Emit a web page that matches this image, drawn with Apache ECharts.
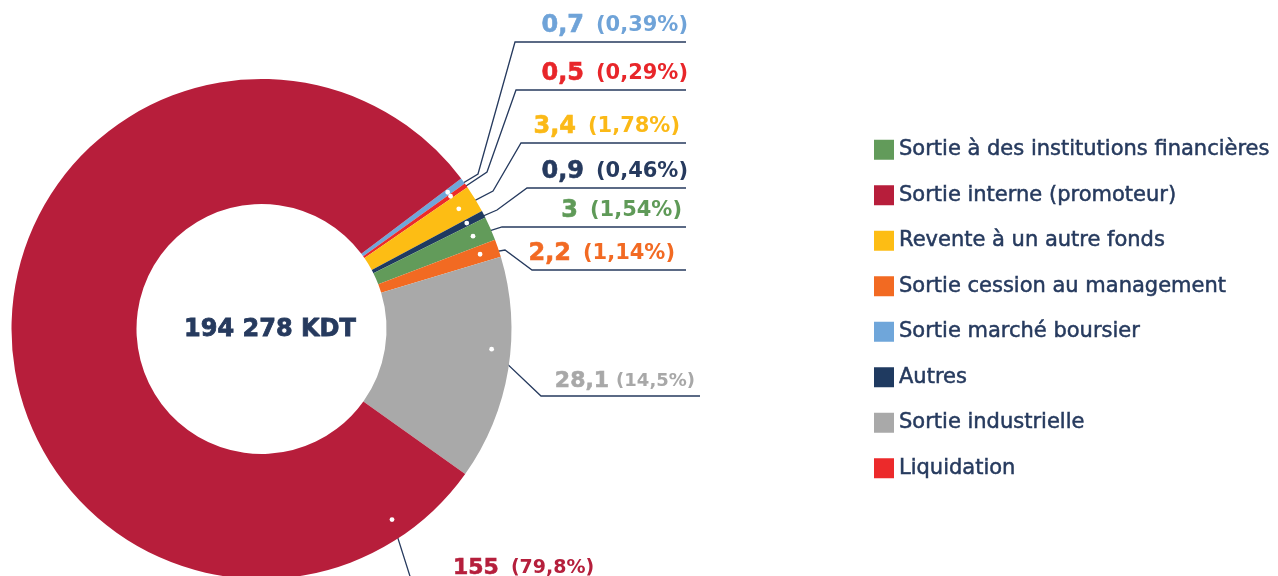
<!DOCTYPE html>
<html>
<head>
<meta charset="utf-8">
<script src="https://cdn.jsdelivr.net/npm/echarts@6/dist/echarts.min.js"></script>
<style>
  html, body { margin: 0; padding: 0; background: #fff; }
  #main { width: 1278px; height: 576px; }
</style>
</head>
<body>
<div id="main"></div>
<script>
// donnees (ordre du tracé, sens horaire)
var names = ['Sortie marché boursier', 'Liquidation', 'Revente à un autre fonds', 'Autres',
  'Sortie à des institutions financières', 'Sortie cession au management', 'Sortie industrielle',
  'Sortie interne (promoteur)'];
var values = [0.7, 0.5, 3.4, 0.9, 3, 2.2, 28.1, 155];      // en MDT
var shares = [0.39, 0.29, 1.78, 0.46, 1.54, 1.14, 14.5, 79.8]; // en %
var legendOrder = ['Sortie à des institutions financières', 'Sortie interne (promoteur)',
  'Revente à un autre fonds', 'Sortie cession au management', 'Sortie marché boursier',
  'Autres', 'Sortie industrielle', 'Liquidation'];
var totalText = '194 278 KDT';

var colors = ['#6fa6da', '#ec2a2b', '#fdbd14', '#1f3a60', '#629b5a', '#f26a22', '#a9a9a9', '#b71e3b'];
var textColors = ['#6fa3d8', '#e8262a', '#fbb917', '#263a5e', '#5f9a58', '#f26a23', '#a8a8a8', '#b51f3c'];
var navy = '#263a5e';
var font = '"DejaVu Sans"';

var cx = 261.5, cy = 329, startAngle = 37;
// position des étiquettes : coude(s), fin de trait, texte
var labelPos = [
  { pts: [[478, 174], [515, 42], [686, 42]], tx: 688, ty: 38, align: 'right' },
  { pts: [[487, 172], [516, 90], [686, 90]], tx: 688, ty: 86, align: 'right' },
  { pts: [[493, 191], [521, 143], [686, 143]], tx: 680, ty: 139, align: 'right' },
  { pts: [[497, 210], [527, 188], [686, 188]], tx: 688, ty: 184, align: 'right' },
  { pts: [[502, 227], [686, 227]], tx: 682, ty: 223, align: 'right' },
  { pts: [[505, 250], [532, 270], [686, 270]], tx: 675, ty: 266, align: 'right' },
  { pts: [[541, 396], [700, 396]], tx: 695, ty: 392, align: 'right' },
  { pts: [[415, 592], [610, 592]], tx: 453, ty: 579, align: 'left' }
];
var dotAngle = [null, null, null, null, null, null, -5.0, -55.6];

function fmt(v) { return String(v).replace('.', ','); }

var sum = shares.reduce(function (a, b) { return a + b; }, 0);
var dots = [];
var acc = 0;
shares.forEach(function (s, i) {
  var mid = startAngle - 360 * (acc + s / 2) / sum;
  acc += s;
  var a = (dotAngle[i] != null ? dotAngle[i] : mid) * Math.PI / 180;
  dots.push([cx + 231 * Math.cos(a), cy - 231 * Math.sin(a)]);
});

var data = names.map(function (n, i) {
  var vSize = i >= 6 ? 22 : 24;
  var pSize = i === 6 ? 18 : (i === 7 ? 19 : 21);
  return {
    name: n,
    value: shares[i],
    itemStyle: { color: colors[i] },
    label: {
      formatter: '{v|' + fmt(values[i]) + '}{p|(' + fmt(shares[i]) + '%)}',
      rich: {
        v: { color: textColors[i], fontSize: vSize, fontWeight: 'bold', fontFamily: font,
             textBorderColor: textColors[i], textBorderWidth: 0.6 },
        p: { color: textColors[i], fontSize: pSize, fontWeight: 'bold', fontFamily: font,
             padding: [0, 0, 0, i === 6 ? 7 : 12] }
      }
    }
  };
});

var myChart = echarts.init(document.getElementById('main'));
var option = {
  animation: false,
  legend: {
    orient: 'vertical',
    left: 869,
    top: 134,
    itemWidth: 20,
    itemHeight: 20,
    itemGap: 24,
    icon: 'rect',
    selectedMode: false,
    data: legendOrder,
    textStyle: { color: navy, fontSize: 21, fontWeight: 'normal', fontFamily: font,
                 textBorderColor: navy, textBorderWidth: 0.5 }
  },
  graphic: [{
    type: 'text',
    x: 270,
    y: 330,
    style: { text: totalText, fill: navy, font: 'bold 24px ' + font, textAlign: 'center',
             textVerticalAlign: 'middle', stroke: navy, lineWidth: 0.8 }
  }].concat(dots.map(function (d) {
    return { type: 'circle', z: 100, shape: { cx: d[0], cy: d[1], r: 2.4 }, style: { fill: '#fff' } };
  })),
  series: [{
    type: 'pie',
    center: [cx, cy],
    radius: [125, 250],
    startAngle: startAngle,
    clockwise: true,
    avoidLabelOverlap: false,
    label: { show: true, position: 'outside' },
    labelLine: { show: true, lineStyle: { color: navy, width: 1.3 } },
    emphasis: { disabled: true },
    labelLayout: function (params) {
      var p = labelPos[params.dataIndex];
      return {
        x: p.tx,
        y: p.ty,
        align: p.align,
        verticalAlign: 'bottom',
        labelLinePoints: [dots[params.dataIndex]].concat(p.pts)
      };
    },
    data: data
  }]
};
myChart.setOption(option);
</script>
</body>
</html>
